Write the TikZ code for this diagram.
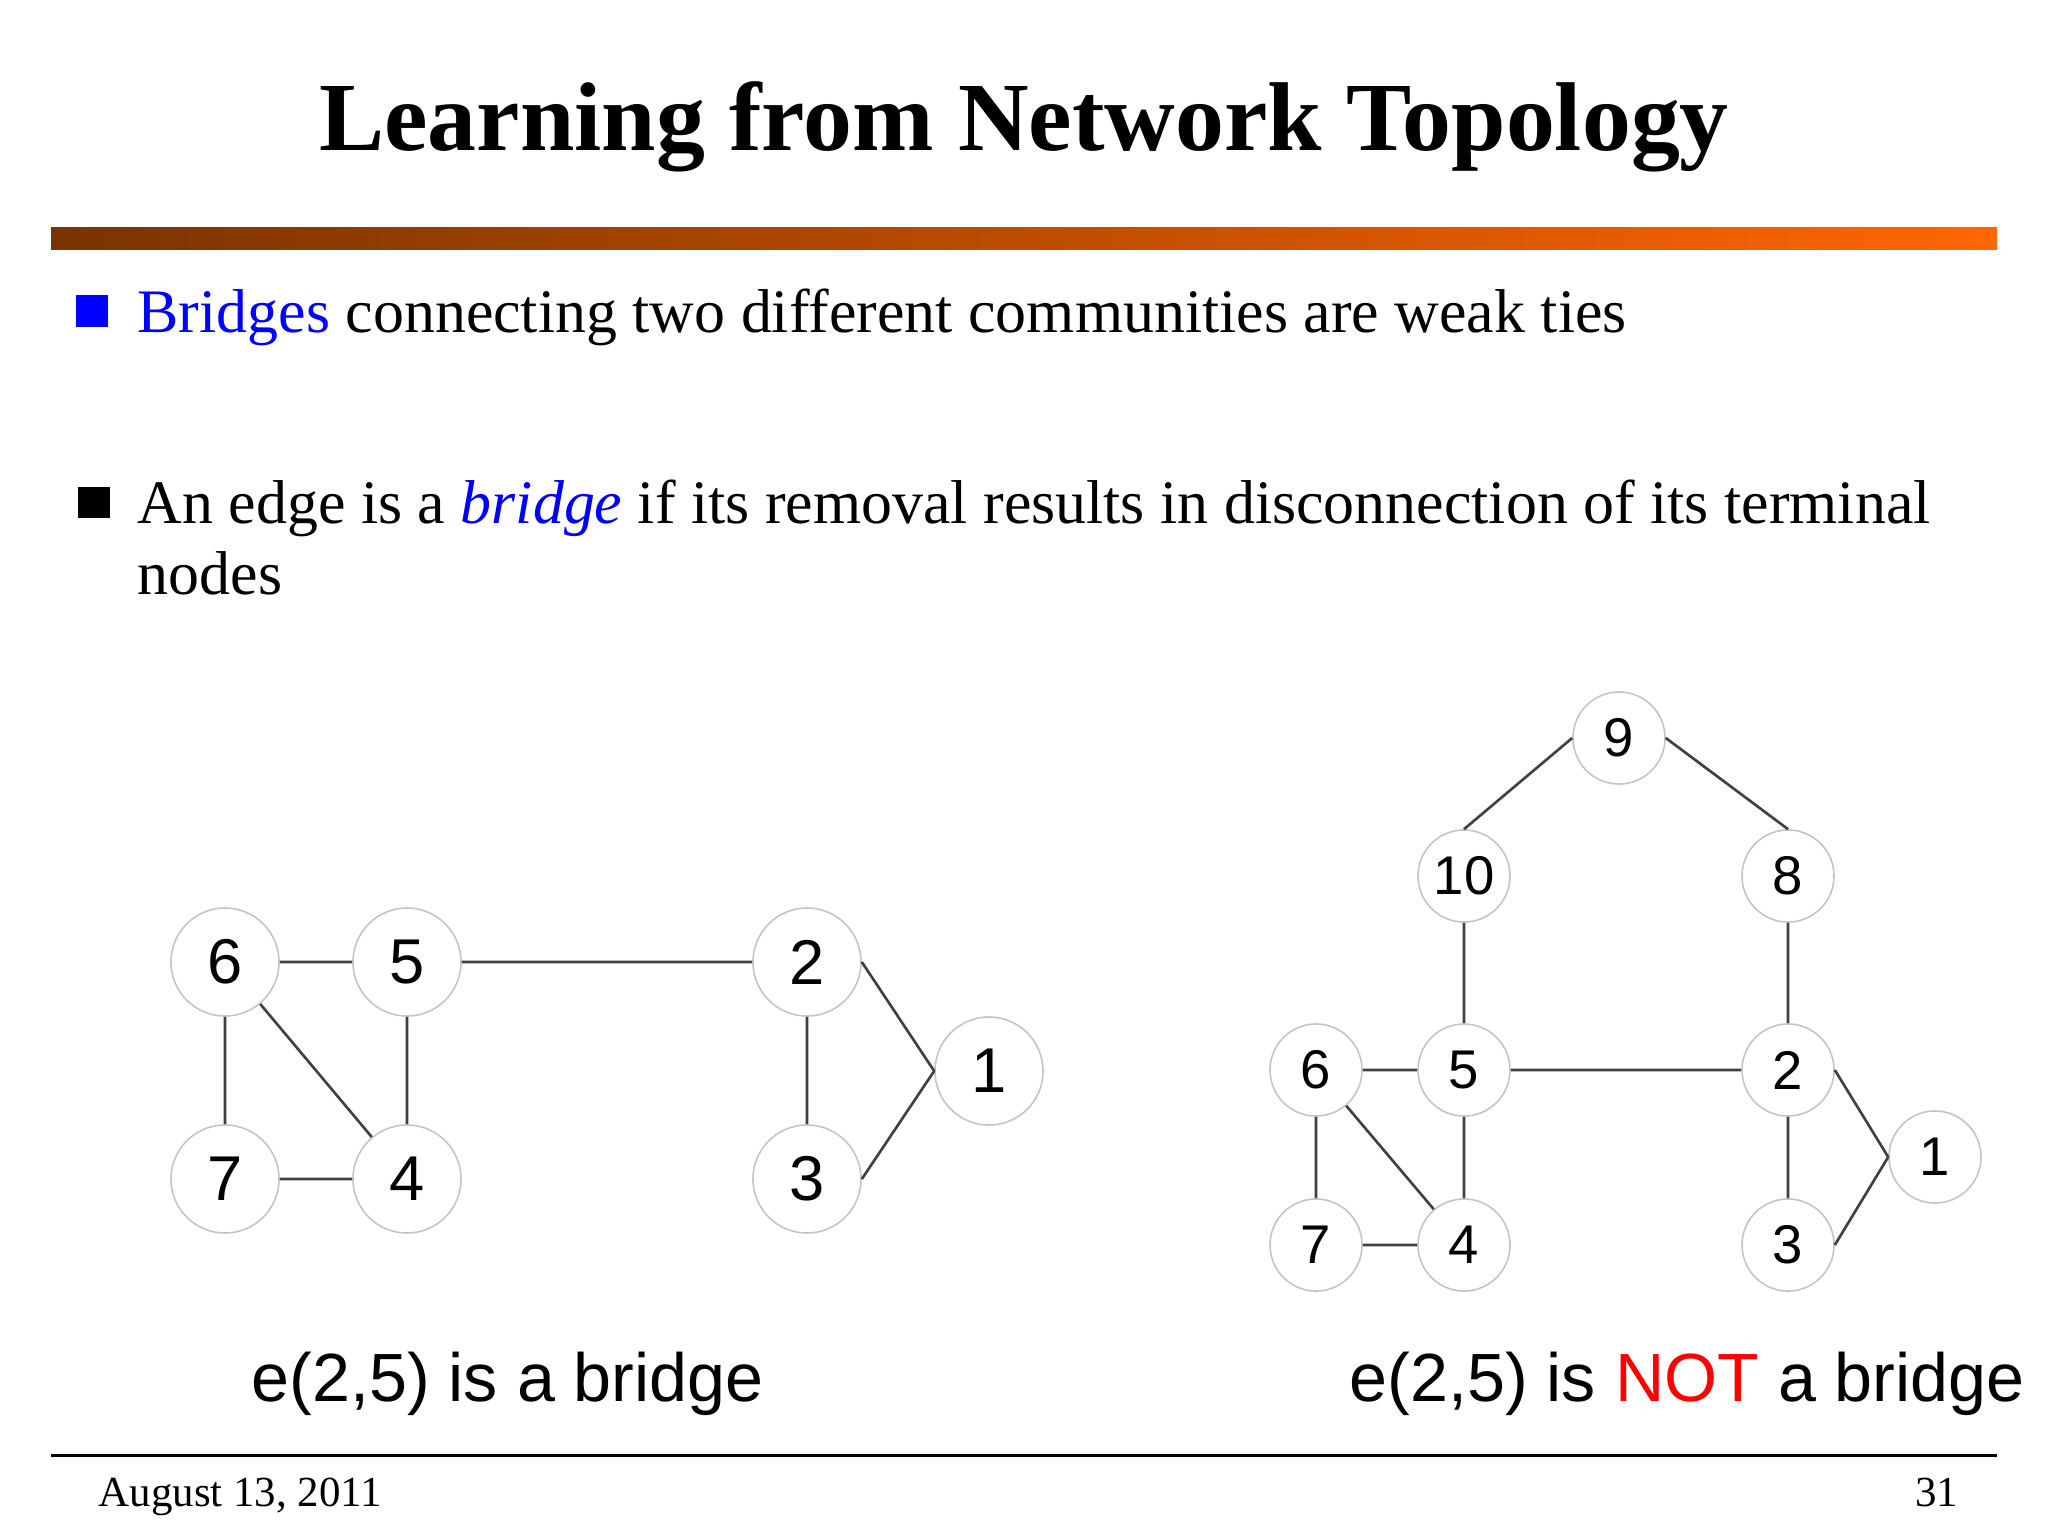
\documentclass[tikz,border=0pt]{standalone}
\usepackage{fontspec}
\setmainfont{Liberation Serif}
\newfontfamily\arialfont{Liberation Sans}
\usetikzlibrary{positioning}

\definecolor{barbrown}{HTML}{7A3300}
\definecolor{barorange}{HTML}{FF6600}
\definecolor{edgegray}{HTML}{404040}
\definecolor{ringgray}{HTML}{C4C4C4}

\begin{document}
\begin{tikzpicture}[
  x=0.01cm, y=-0.01cm,
  vertex/.style={circle, draw=ringgray, line width=0.45pt, fill=white, inner sep=0pt,
    minimum size=10.8mm, font=\arialfont\fontsize{18}{18}\selectfont},
  small vertex/.style={vertex, minimum size=9.2mm, font=\arialfont\fontsize{15.5}{15.5}\selectfont},
  link/.style={draw=edgegray, line width=0.75pt},
  bodytext/.style={anchor=base west, inner sep=0pt, font=\fontsize{17.6}{20}\selectfont},
  caption/.style={anchor=base west, inner sep=0pt, font=\arialfont\fontsize{19.4}{22}\selectfont},
  bulletbox/.style={rectangle, inner sep=0pt, minimum size=3.1mm},
  footer/.style={inner sep=0pt, font=\fontsize{12.2}{13}\selectfont}
]
\useasboundingbox[fill=white] (0,0) rectangle (2048,1536);

\node[anchor=base, inner sep=0pt, font=\bfseries\fontsize{27.8}{32}\selectfont] (title) at (1024,150)
  {Learning from Network Topology};
\shade[left color=barbrown, right color=barorange] (51,227) rectangle (1997,249);

\node[bulletbox, fill=blue] (sq1) at (92,311) {};
\node[bodytext] (bullet1) at (137,332)
  {\textcolor{blue}{Bridges} connecting two different communities are weak ties};
\node[bulletbox, fill=black] (sq2) at (94,502) {};
\node[bodytext] (bullet2) at (137,523)
  {An edge is a \textcolor{blue}{\textit{bridge}} if its removal results in disconnection of its terminal};
\node[bodytext] (bullet2b) at (137,594) {nodes};

\node[vertex] (a6) at (225,962) {6};
\node[vertex] (a5) at (407,962) {5};
\node[vertex] (a2) at (807,962) {2};
\node[vertex] (a1) at (989,1071) {1};
\node[vertex] (a7) at (225,1179) {7};
\node[vertex] (a4) at (407,1179) {4};
\node[vertex] (a3) at (807,1179) {3};

\draw[link] (a6) -- (a5) (a5) -- (a2) (a6) -- (a7) (a6) -- (a4) (a5) -- (a4) (a7) -- (a4)
  (a2) -- (a3) (a2.east) -- (a1.west) (a3.east) -- (a1.west);

\node[small vertex] (b9) at (1619,738) {9};
\node[small vertex] (b10) at (1464,876) {10};
\node[small vertex] (b8) at (1788,876) {8};
\node[small vertex] (b6) at (1316,1070) {6};
\node[small vertex] (b5) at (1464,1070) {5};
\node[small vertex] (b2) at (1788,1070) {2};
\node[small vertex] (b1) at (1935,1157) {1};
\node[small vertex] (b7) at (1316,1245) {7};
\node[small vertex] (b4) at (1464,1245) {4};
\node[small vertex] (b3) at (1788,1245) {3};

\draw[link] (b9.west) -- (b10.north) (b9.east) -- (b8.north) (b10) -- (b5) (b8) -- (b2)
  (b6) -- (b5) (b5) -- (b2) (b6) -- (b7) (b6) -- (b4) (b5) -- (b4) (b7) -- (b4)
  (b2) -- (b3) (b2.east) -- (b1.west) (b3.east) -- (b1.west);

\node[caption] (capleft) at (251,1401) {e(2,5) is a bridge};
\node[caption] (capright) at (1349,1401) {e(2,5) is \textcolor{red}{NOT} a bridge};

\draw[line width=0.85pt] (51,1455) -- (1997,1455);
\node[footer, anchor=base west] (date) at (98,1506) {August 13, 2011};
\node[footer, anchor=base east] (page) at (1959,1506) {31};

\end{tikzpicture}
\end{document}
